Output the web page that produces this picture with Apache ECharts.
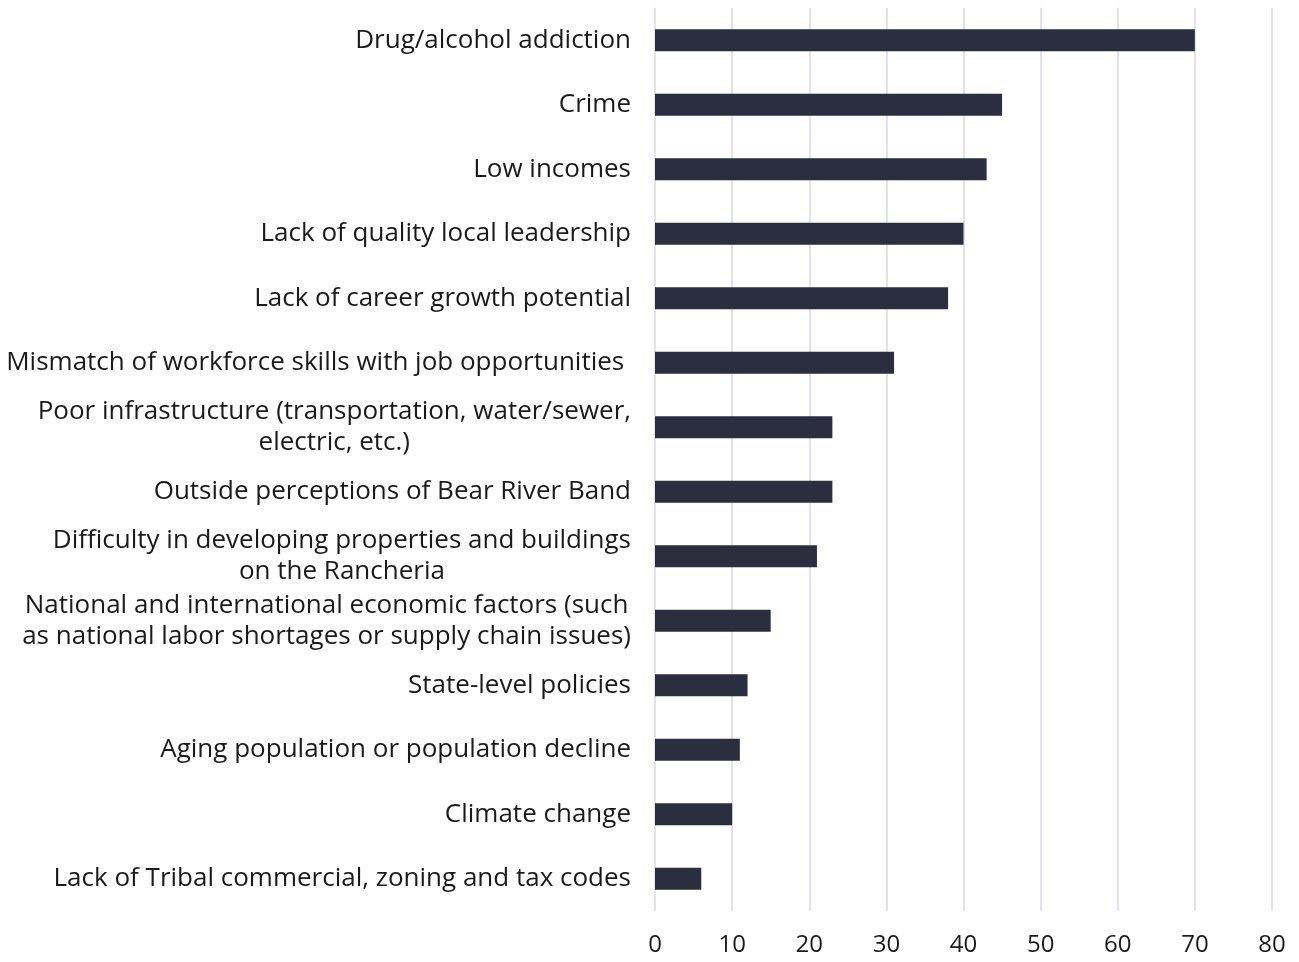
<!DOCTYPE html>
<html><head><meta charset="utf-8">
<script src="https://cdn.jsdelivr.net/npm/echarts@6/dist/echarts.min.js"></script>
<style>html,body{margin:0;padding:0;background:#fff}#c{width:1299px;height:962px}</style>
</head><body><div id="c"></div>
<script>
const categories = [
  "Drug/alcohol addiction",
  "Crime",
  "Low incomes",
  "Lack of quality local leadership",
  "Lack of career growth potential",
  "Mismatch of workforce skills with job opportunities ",
  "Poor infrastructure (transportation, water/sewer,\nelectric, etc.)",
  "Outside perceptions of Bear River Band",
  "Difficulty in developing properties and buildings\non the Rancheria",
  "National and international economic factors (such\nas national labor shortages or supply chain issues)",
  "State-level policies",
  "Aging population or population decline",
  "Climate change",
  "Lack of Tribal commercial, zoning and tax codes"
];
const values = [70, 45, 43, 40, 38, 31, 23, 23, 21, 15, 12, 11, 10, 6];
const xTicks = [0, 10, 20, 30, 40, 50, 60, 70, 80];

const FONT = 'Open Sans';
const chart = echarts.init(document.getElementById('c'));
chart.setOption({
  animation: false,
  backgroundColor: '#ffffff',
  grid: {left: 655, right: 27, top: 8, bottom: 51, containLabel: false},
  xAxis: {
    type: 'value', min: xTicks[0], max: xTicks[xTicks.length-1], interval: 10,
    axisLine: {show: false}, axisTick: {show: false},
    splitLine: {show: true, lineStyle: {color: '#d9d9e6', width: 1.5}},
    axisLabel: {fontFamily: FONT, fontSize: 24, color: '#1a1a1a', margin: 22}
  },
  yAxis: {
    type: 'category', inverse: true, data: categories,
    axisLine: {show: false}, axisTick: {show: false},
    axisLabel: {
      fontFamily: FONT, fontSize: 26, color: '#1a1a1a', margin: 24, lineHeight: 31,
      formatter: function (v) {
        return v.split('\n').map(function (l) { return '{c|' + l + '}'; }).join('\n');
      },
      rich: {c: {fontFamily: FONT, fontSize: 26, color: '#1a1a1a', align: 'center', lineHeight: 31}}
    }
  },
  series: [{
    type: 'bar', data: values, barWidth: 22,
    itemStyle: {color: '#2b2e3f'}
  }]
});
</script></body></html>
